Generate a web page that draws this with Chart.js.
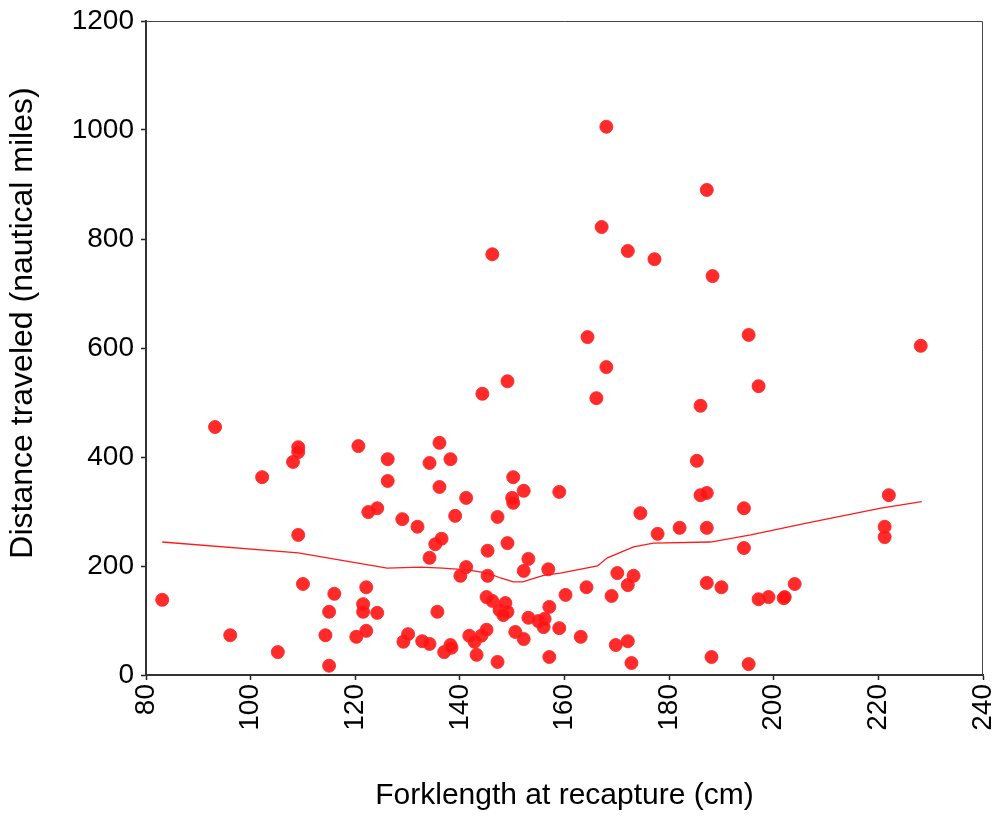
<!DOCTYPE html>
<html>
<head>
<meta charset="utf-8">
<script src="https://cdn.jsdelivr.net/npm/chart.js@4"></script>
<style>
  body { margin: 0; background: #fff; }
</style>
</head>
<body>
<canvas id="myChart" width="997" height="822"></canvas>
<script>
// fork length (cm) and distance (nautical miles) of each recapture
var forkLength = [
  83.1, 93.2, 96.1, 102.2, 105.2, 108.1, 109.1, 109.1, 109.1, 110.0,
  114.3, 115.0, 115.0, 116.0, 120.2, 120.6, 121.5, 121.5, 122.1, 122.1,
  122.5, 124.2, 124.2, 126.2, 126.2, 129.0, 129.2, 130.1, 131.9, 132.8,
  134.2, 144.3, 166.1, 136.1, 134.2, 138.2, 136.1, 141.2, 150.2, 152.2,
  150.0, 150.2, 159.0, 139.1, 147.2, 174.5, 177.8, 135.3, 136.5, 134.2,
  145.3, 149.1, 153.1, 152.2, 156.9, 141.2, 140.1, 145.3, 170.1, 173.2,
  172.1, 164.2, 160.2, 169.0, 145.1, 146.2, 148.7, 147.6, 149.1, 148.3,
  135.7, 157.1, 153.1, 155.0, 156.2, 156.0, 159.0, 137.0, 138.2, 138.4,
  141.8, 142.8, 144.1, 145.1, 150.6, 152.2, 163.1, 169.8, 172.1, 143.2,
  147.2, 157.1, 172.8, 197.1, 186.0, 185.3, 186.0, 187.2, 222.0, 194.3,
  182.0, 187.2, 221.2, 221.2, 194.3, 187.2, 190.0, 197.1, 199.0, 201.9,
  202.1, 204.0, 188.1, 195.2, 146.2, 164.4, 167.1, 168.0, 168.0, 172.1,
  177.2, 187.2, 188.3, 195.2, 228.1, 149.1
];
var distance = [
  138, 455, 73, 363, 42, 391, 418, 409, 257, 167,
  73, 116, 17, 149, 70, 420, 130, 116, 161, 81,
  299, 306, 114, 396, 356, 286, 61, 75, 272, 62,
  57, 516, 508, 426, 389, 396, 345, 325, 363, 338,
  325, 316, 336, 292, 290, 297, 259, 240, 250, 215,
  228, 242, 213, 191, 194, 198, 182, 182, 187, 182,
  165, 161, 147, 145, 143, 136, 132, 119, 116, 110,
  116, 125, 105, 99, 103, 88, 86, 42, 55, 50,
  72, 61, 72, 83, 79, 66, 70, 55, 62, 37,
  24, 33, 22, 530, 494, 393, 330, 334, 330, 306,
  270, 270, 272, 253, 233, 169, 161, 139, 143, 141,
  143, 167, 33, 20, 772, 620, 822, 1006, 565, 778,
  763, 890, 732, 624, 604, 539
];

// smoothed fit line
var fitX = [83.1, 109.1, 126.1, 132.4, 136.7, 141.4, 145.3, 147.8, 150.2, 152.0,
            156.0, 159.2, 166.3, 168.2, 173.2, 177.0, 187.9, 195.6, 206.5, 220.5, 228.3];
var fitY = [244, 224, 196, 198, 196, 193, 187, 178, 171, 171,
            183, 187, 200, 215, 235, 242, 244, 257, 279, 306, 318];

var yTitle = 'Distance traveled (nautical miles)';

var points = forkLength.map(function (x, i) { return { x: x, y: distance[i] }; });
var fit = fitX.map(function (x, i) { return { x: x, y: fitY[i] }; });

var fontName = "'Liberation Sans', Arial, sans-serif";

// thin frame on top and right, plus the y title (sits a bit above centre)
var frame = {
  id: 'frame',
  beforeDatasetsDraw: function (chart) {
    var a = chart.chartArea, c = chart.ctx;
    c.save();
    c.strokeStyle = '#444';
    c.lineWidth = 1;
    c.beginPath();
    c.moveTo(a.left, a.top + 0.5);
    c.lineTo(a.right - 0.5, a.top + 0.5);
    c.lineTo(a.right - 0.5, a.bottom);
    c.stroke();
    c.restore();
  },
  afterDraw: function (chart) {
    var c = chart.ctx;
    c.save();
    c.translate(23, 323);
    c.rotate(-Math.PI / 2);
    c.font = '32px ' + fontName;
    c.fillStyle = '#000';
    c.textAlign = 'center';
    c.textBaseline = 'middle';
    c.fillText(yTitle, 0, 0);
    c.restore();
  }
};

var ctx = document.getElementById('myChart');

var myChart = new Chart(ctx, {
  type: 'scatter',
  data: {
    datasets: [{
      data: points,
      backgroundColor: 'rgba(255, 20, 20, 0.9)',
      borderColor: 'rgba(255, 40, 40, 0.9)',
      borderWidth: 1,
      pointRadius: 6.5,
      pointHoverRadius: 6.5
    }, {
      type: 'line',
      data: fit,
      borderColor: '#ff1a1a',
      borderWidth: 1.3,
      pointRadius: 0,
      tension: 0,
      fill: false
    }]
  },
  options: {
    responsive: false,
    animation: false,
    events: [],
    layout: { padding: { top: 21, right: 14, left: 0, bottom: 8 } },
    plugins: { legend: { display: false }, tooltip: { enabled: false } },
    scales: {
      x: {
        type: 'linear',
        min: 80, max: 240,
        afterFit: function (s) { s.height = 822 - 675 - 8; s.paddingRight = 0; s.paddingLeft = 0; },
        grid: { display: true, drawOnChartArea: false, tickLength: 5, color: '#222', tickWidth: 1.5 },
        border: { display: true, color: '#333', width: 2 },
        ticks: {
          stepSize: 20, minRotation: 90, maxRotation: 90, padding: 4,
          color: '#000', font: { family: fontName, size: 28 },
          callback: function (v) { return String(v); }
        },
        title: {
          display: true, text: 'Forklength at recapture (cm)', color: '#000',
          font: { family: fontName, size: 30 }, padding: { top: 0, bottom: 0 }
        }
      },
      y: {
        min: 0, max: 1200,
        afterFit: function (s) { s.width = 146; s.paddingTop = 0; s.paddingBottom = 0; },
        grid: { display: true, drawOnChartArea: false, tickLength: 5, color: '#222', tickWidth: 1.5 },
        border: { display: true, color: '#333', width: 2 },
        ticks: {
          stepSize: 200, padding: 7,
          color: '#000', font: { family: fontName, size: 28 },
          callback: function (v) { return String(v); }
        }
      }
    }
  },
  plugins: [frame]
});
</script>
</body>
</html>
